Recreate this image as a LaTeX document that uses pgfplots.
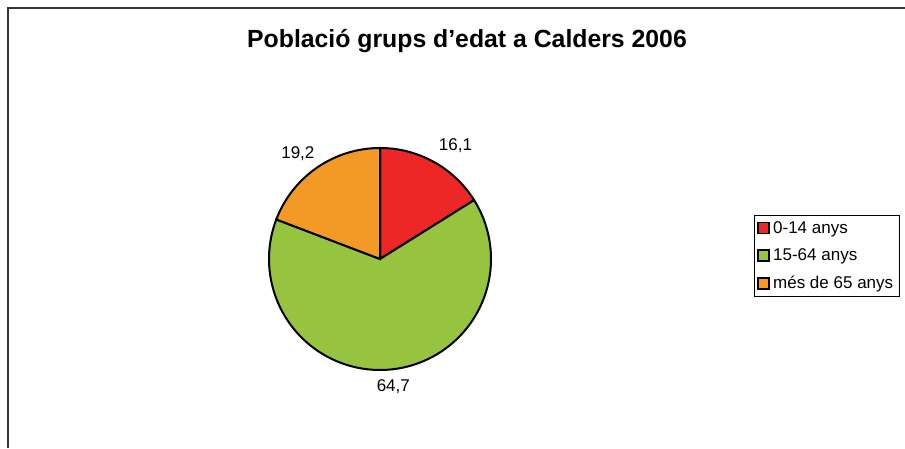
\documentclass[border=0pt]{standalone}
\usepackage{pgfplots}
\pgfplotsset{compat=1.18}
\usepackage{fontspec}
\setmainfont{Liberation Sans}
\definecolor{cRed}{HTML}{EC2726}
\definecolor{cGreen}{HTML}{97C43E}
\definecolor{cOrange}{HTML}{F29A25}
\begin{document}
\begin{tikzpicture}[x=1pt,y=1pt]
\useasboundingbox (0,0) rectangle (905,448);
\fill[white] (0,0) rectangle (905,448);
\draw[line width=1.6pt,black!80] (8,0) -- (8,440) -- (905,440);
\node[font=\fontsize{24.8}{28}\selectfont\bfseries] at (467,407) {Població grups d'edat a Calders 2006};
\coordinate (pc) at (380,189);
% values (percent)
\pgfmathsetmacro{\va}{16.1}
\pgfmathsetmacro{\vb}{64.7}
\pgfmathsetmacro{\vc}{19.2}
\pgfmathsetmacro{\aA}{90}
\pgfmathsetmacro{\aB}{90-3.6*\va}
\pgfmathsetmacro{\aC}{\aB-3.6*\vb}
\pgfmathsetmacro{\aD}{\aC-3.6*\vc}
\begin{axis}[
  at={(pc)}, anchor=center,
  width=222pt, height=222pt, scale only axis,
  xmin=-1, xmax=1, ymin=-1, ymax=1,
  hide axis, clip=false,
  legend cell align=left,
  legend style={at={(2.185,0.698)}, anchor=north west, draw=black, line width=0.8pt,
    font=\fontsize{17}{20}\selectfont, row sep=10pt, inner xsep=3pt, inner ysep=4pt,
    nodes={inner xsep=3pt}},
  legend image code/.code={\draw[#1, draw=black, line width=1.7pt] (0pt,-5.5pt) rectangle (11pt,5.5pt);},
]
\addplot[fill=cRed, draw=black, line width=2pt, domain=\aB:\aA, samples=60, variable=\t]
  ({cos(\t)}, {sin(\t)}) -- (axis cs:0,0) -- cycle;
\addlegendentry{0-14 anys}
\addplot[fill=cGreen, draw=black, line width=2pt, domain=\aC:\aB, samples=150, variable=\t]
  ({cos(\t)}, {sin(\t)}) -- (axis cs:0,0) -- cycle;
\addlegendentry{15-64 anys}
\addplot[fill=cOrange, draw=black, line width=2pt, domain=\aD:\aC, samples=60, variable=\t]
  ({cos(\t)}, {sin(\t)}) -- (axis cs:0,0) -- cycle;
\addlegendentry{més de 65 anys}
\node[font=\fontsize{17}{20}\selectfont] at (axis cs:0.68,1.02) {16,1};
\node[font=\fontsize{17}{20}\selectfont] at (axis cs:-0.74,0.95) {19,2};
\node[font=\fontsize{17}{20}\selectfont] at (axis cs:0.12,-1.15) {64,7};
\end{axis}
\end{tikzpicture}
\end{document}
